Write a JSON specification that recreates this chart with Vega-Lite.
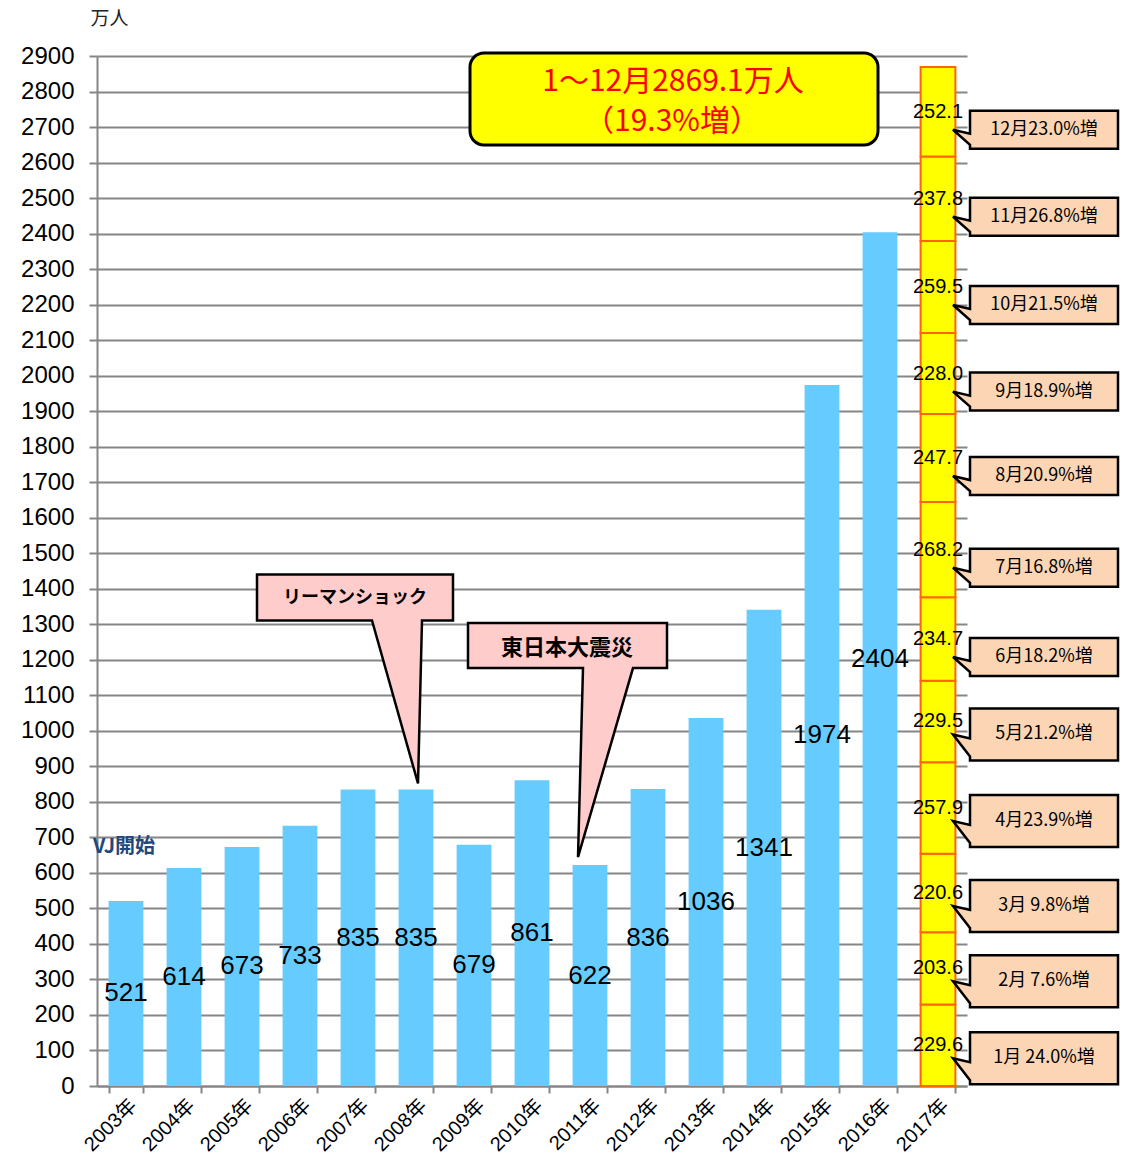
{
  "$schema": "https://vega.github.io/schema/vega-lite/v6.json",
  "width": 870,
  "height": 1030,
  "autosize": "none",
  "padding": {"left": 97, "top": 56, "right": 157, "bottom": 82},
  "background": "white",
  "config": {
    "view": {"stroke": null},
    "font": "Liberation Sans",
    "numberFormat": "d",
    "axisX": {
      "labelAngle": -45, "tickBand": "extent",
      "domainColor": "#868686", "domainWidth": 2,
      "tickColor": "#868686", "tickWidth": 2, "tickSize": 7,
      "labelFont": "Liberation Sans, Noto Sans CJK JP", "labelFontSize": 20,
      "labelColor": "black", "labelOverlap": false, "grid": false
    },
    "axisY": {
      "titleAngle": 0, "titleX": -7, "titleY": -38,
      "titleAlign": "left", "titleBaseline": "middle",
      "titleFont": "Noto Sans CJK JP", "titleFontSize": 19, "titleFontWeight": "normal", "titleColor": "#222222",
      "tickCount": 30,
      "grid": true, "gridColor": "#868686", "gridWidth": 2,
      "domainColor": "#868686", "domainWidth": 2,
      "tickColor": "#868686", "tickWidth": 2, "tickSize": 8,
      "labelFont": "Liberation Sans", "labelFontSize": 24, "labelColor": "black",
      "labelPadding": 15, "labelOverlap": false
    }
  },
  "datasets": {
    "years": [
      {"year": "2003年", "visitors": 521},
      {"year": "2004年", "visitors": 614},
      {"year": "2005年", "visitors": 673},
      {"year": "2006年", "visitors": 733},
      {"year": "2007年", "visitors": 835},
      {"year": "2008年", "visitors": 835},
      {"year": "2009年", "visitors": 679},
      {"year": "2010年", "visitors": 861},
      {"year": "2011年", "visitors": 622},
      {"year": "2012年", "visitors": 836},
      {"year": "2013年", "visitors": 1036},
      {"year": "2014年", "visitors": 1341},
      {"year": "2015年", "visitors": 1974},
      {"year": "2016年", "visitors": 2404}
    ],
    "months": [
      {"year": "2017年", "m": 1, "visitors": 229.6, "note": "1月 24.0%増"},
      {"year": "2017年", "m": 2, "visitors": 203.6, "note": "2月  7.6%増"},
      {"year": "2017年", "m": 3, "visitors": 220.6, "note": "3月  9.8%増"},
      {"year": "2017年", "m": 4, "visitors": 257.9, "note": "4月23.9%増"},
      {"year": "2017年", "m": 5, "visitors": 229.5, "note": "5月21.2%増"},
      {"year": "2017年", "m": 6, "visitors": 234.7, "note": "6月18.2%増"},
      {"year": "2017年", "m": 7, "visitors": 268.2, "note": "7月16.8%増"},
      {"year": "2017年", "m": 8, "visitors": 247.7, "note": "8月20.9%増"},
      {"year": "2017年", "m": 9, "visitors": 228.0, "note": "9月18.9%増"},
      {"year": "2017年", "m": 10, "visitors": 259.5, "note": "10月21.5%増"},
      {"year": "2017年", "m": 11, "visitors": 237.8, "note": "11月26.8%増"},
      {"year": "2017年", "m": 12, "visitors": 252.1, "note": "12月23.0%増"}
    ]
  },
  "layer": [
    {
      "data": {"name": "years"},
      "mark": {"type": "bar", "color": "#66CCFF"},
      "encoding": {
        "x": {
          "field": "year", "type": "nominal", "title": null,
          "scale": {
            "domain": ["2003年","2004年","2005年","2006年","2007年","2008年","2009年","2010年","2011年","2012年","2013年","2014年","2015年","2016年","2017年"],
            "paddingInner": 0.4, "paddingOuter": 0.2
          },
          "axis": {"labelFontSize": 20, "labelAngle": -45, "tickBand": "extent"}
        },
        "y": {
          "field": "visitors", "type": "quantitative", "title": "万人",
          "scale": {"domain": [0, 2900], "nice": false},
          "axis": {"format": "d", "tickCount": 30, "values": [0,100,200,300,400,500,600,700,800,900,1000,1100,1200,1300,1400,1500,1600,1700,1800,1900,2000,2100,2200,2300,2400,2500,2600,2700,2800,2900]}
        }
      }
    },
    {
      "data": {"name": "months"},
      "transform": [
        {"stack": "visitors", "groupby": ["year"], "sort": [{"field": "m", "order": "ascending"}], "as": ["v0", "v1"]}
      ],
      "mark": {"type": "bar", "fill": "#FFFF00", "stroke": "#FF6600", "strokeWidth": 2},
      "encoding": {
        "x": {"field": "year", "type": "nominal"},
        "y": {"field": "v0", "type": "quantitative"},
        "y2": {"field": "v1"}
      }
    },
    {
      "data": {"name": "years"},
      "transform": [
        {"stack": "visitors", "groupby": ["year"], "as": ["v0", "v1"]},
        {"fold": ["v0", "v1"], "as": ["edge", "pos"]},
        {"aggregate": [{"op": "mean", "field": "pos", "as": "mid"}], "groupby": ["year", "visitors"]}
      ],
      "mark": {"type": "text", "font": "Liberation Sans", "fontSize": 26, "color": "black", "baseline": "middle", "align": "center"},
      "encoding": {
        "x": {"field": "year", "type": "nominal"},
        "y": {"field": "mid", "type": "quantitative"},
        "text": {"field": "visitors", "type": "quantitative", "format": "d"}
      }
    },
    {
      "data": {"name": "months"},
      "transform": [
        {"stack": "visitors", "groupby": ["year"], "sort": [{"field": "m", "order": "ascending"}], "as": ["v0", "v1"]},
        {"fold": ["v0", "v1"], "as": ["edge", "pos"]},
        {"aggregate": [{"op": "mean", "field": "pos", "as": "mid"}], "groupby": ["year", "m", "visitors", "note"]},
        {"filter": "datum.m <= 5"}
      ],
      "mark": {"type": "point", "filled": true, "opacity": 1, "size": 4, "fill": "#FCD5B4", "stroke": "black", "strokeWidth": 2.5,
               "shape": "M32,-13 L180,-13 L180,39 L32,39 L32,35 L15,13 L32,17 Z"},
      "encoding": {
        "x": {"field": "year", "type": "nominal"},
        "y": {"field": "mid", "type": "quantitative"}
      }
    },
    {
      "data": {"name": "months"},
      "transform": [
        {"stack": "visitors", "groupby": ["year"], "sort": [{"field": "m", "order": "ascending"}], "as": ["v0", "v1"]},
        {"fold": ["v0", "v1"], "as": ["edge", "pos"]},
        {"aggregate": [{"op": "mean", "field": "pos", "as": "mid"}], "groupby": ["year", "m", "visitors", "note"]},
        {"filter": "datum.m <= 5"}
      ],
      "mark": {"type": "text", "font": "Noto Sans CJK JP", "fontSize": 18, "color": "black", "dx": 106, "dy": 13, "align": "center", "baseline": "middle"},
      "encoding": {
        "x": {"field": "year", "type": "nominal"},
        "y": {"field": "mid", "type": "quantitative"},
        "text": {"field": "note", "type": "nominal"}
      }
    },
    {
      "data": {"name": "months"},
      "transform": [
        {"stack": "visitors", "groupby": ["year"], "sort": [{"field": "m", "order": "ascending"}], "as": ["v0", "v1"]},
        {"fold": ["v0", "v1"], "as": ["edge", "pos"]},
        {"aggregate": [{"op": "mean", "field": "pos", "as": "mid"}], "groupby": ["year", "m", "visitors", "note"]},
        {"filter": "datum.m >= 6"}
      ],
      "mark": {"type": "point", "filled": true, "opacity": 1, "size": 4, "fill": "#FCD5B4", "stroke": "black", "strokeWidth": 2.5,
               "shape": "M32,-1 L180,-1 L180,37 L32,37 L32,33 L15,18 L32,22 Z"},
      "encoding": {
        "x": {"field": "year", "type": "nominal"},
        "y": {"field": "mid", "type": "quantitative"}
      }
    },
    {
      "data": {"name": "months"},
      "transform": [
        {"stack": "visitors", "groupby": ["year"], "sort": [{"field": "m", "order": "ascending"}], "as": ["v0", "v1"]},
        {"fold": ["v0", "v1"], "as": ["edge", "pos"]},
        {"aggregate": [{"op": "mean", "field": "pos", "as": "mid"}], "groupby": ["year", "m", "visitors", "note"]},
        {"filter": "datum.m >= 6"}
      ],
      "mark": {"type": "text", "font": "Noto Sans CJK JP", "fontSize": 18, "color": "black", "dx": 106, "dy": 18, "align": "center", "baseline": "middle"},
      "encoding": {
        "x": {"field": "year", "type": "nominal"},
        "y": {"field": "mid", "type": "quantitative"},
        "text": {"field": "note", "type": "nominal"}
      }
    },
    {
      "data": {"name": "months"},
      "transform": [
        {"stack": "visitors", "groupby": ["year"], "sort": [{"field": "m", "order": "ascending"}], "as": ["v0", "v1"]},
        {"fold": ["v0", "v1"], "as": ["edge", "pos"]},
        {"aggregate": [{"op": "mean", "field": "pos", "as": "mid"}], "groupby": ["year", "m", "visitors"]}
      ],
      "mark": {"type": "text", "font": "Liberation Sans", "fontSize": 20, "color": "black", "align": "center", "baseline": "middle"},
      "encoding": {
        "x": {"field": "year", "type": "nominal"},
        "y": {"field": "mid", "type": "quantitative"},
        "text": {"field": "visitors", "type": "quantitative", "format": ".1f"}
      }
    },
    {
      "data": {"name": "years"},
      "transform": [{"filter": "datum.year == '2008年'"}],
      "mark": {"type": "point", "filled": true, "opacity": 1, "size": 4, "fill": "#FFCCCC", "stroke": "black", "strokeWidth": 2.5,
               "shape": "M-159,-215 L37,-215 L37,-169 L6,-169 L2,-6 L-44,-169 L-159,-169 Z"},
      "encoding": {
        "x": {"field": "year", "type": "nominal"},
        "y": {"field": "visitors", "type": "quantitative"}
      }
    },
    {
      "data": {"name": "years"},
      "transform": [{"filter": "datum.year == '2008年'"}],
      "mark": {"type": "text", "text": "リーマンショック", "font": "Noto Sans CJK JP", "fontSize": 18, "fontWeight": "bold", "color": "black", "dx": -61, "dy": -191, "align": "center", "baseline": "middle"},
      "encoding": {
        "x": {"field": "year", "type": "nominal"},
        "y": {"field": "visitors", "type": "quantitative"}
      }
    },
    {
      "data": {"name": "years"},
      "transform": [{"filter": "datum.year == '2011年'"}],
      "mark": {"type": "point", "filled": true, "opacity": 1, "size": 4, "fill": "#FFCCCC", "stroke": "black", "strokeWidth": 2.5,
               "shape": "M-122,-242 L77,-242 L77,-197 L43,-197 L-12,-8 L-7,-197 L-122,-197 Z"},
      "encoding": {
        "x": {"field": "year", "type": "nominal"},
        "y": {"field": "visitors", "type": "quantitative"}
      }
    },
    {
      "data": {"name": "years"},
      "transform": [{"filter": "datum.year == '2011年'"}],
      "mark": {"type": "text", "text": "東日本大震災", "font": "Noto Sans CJK JP", "fontSize": 22, "fontWeight": "bold", "color": "black", "dx": -23, "dy": -217, "align": "center", "baseline": "middle"},
      "encoding": {
        "x": {"field": "year", "type": "nominal"},
        "y": {"field": "visitors", "type": "quantitative"}
      }
    },
    {
      "data": {"values": [{}]},
      "mark": {"type": "point", "filled": true, "opacity": 1, "size": 4, "fill": "#FFFF00", "stroke": "black", "strokeWidth": 3,
               "shape": "M-164,-3 L216,-3 A14,14 0 0 1 230,11 L230,75 A14,14 0 0 1 216,89 L-164,89 A14,14 0 0 1 -178,75 L-178,11 A14,14 0 0 1 -164,-3 Z"},
      "encoding": {
        "x": {"datum": "2012年", "type": "nominal"},
        "y": {"datum": 2900, "type": "quantitative"}
      }
    },
    {
      "data": {"values": [{}]},
      "mark": {"type": "text", "text": "1～12月2869.1万人", "font": "Noto Sans CJK JP", "fontSize": 30, "color": "#FF0000", "dx": 25, "dy": 26, "align": "center", "baseline": "middle"},
      "encoding": {
        "x": {"datum": "2012年", "type": "nominal"},
        "y": {"datum": 2900, "type": "quantitative"}
      }
    },
    {
      "data": {"values": [{}]},
      "mark": {"type": "text", "text": "（19.3%増）", "font": "Noto Sans CJK JP", "fontSize": 30, "color": "#FF0000", "dx": 24, "dy": 66, "align": "center", "baseline": "middle"},
      "encoding": {
        "x": {"datum": "2012年", "type": "nominal"},
        "y": {"datum": 2900, "type": "quantitative"}
      }
    },
    {
      "data": {"values": [{}]},
      "mark": {"type": "text", "text": "VJ開始", "font": "Noto Sans CJK JP", "fontSize": 20, "fontWeight": "bold", "color": "#1F497D", "dx": -2, "align": "center", "baseline": "middle"},
      "encoding": {
        "x": {"datum": "2003年", "type": "nominal"},
        "y": {"datum": 673, "type": "quantitative"}
      }
    }
  ]
}
